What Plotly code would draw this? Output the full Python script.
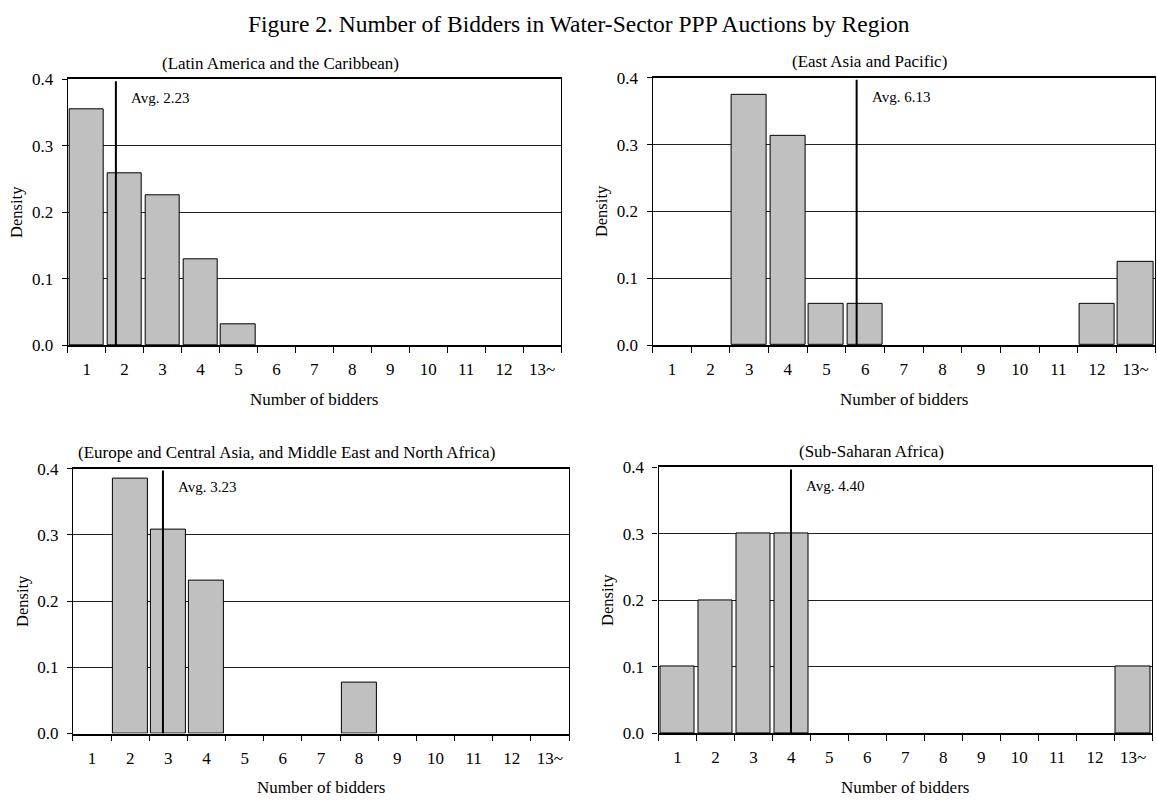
import plotly.graph_objects as go

# ---------------- data ----------------
categories = ["1", "2", "3", "4", "5", "6", "7", "8", "9", "10", "11", "12", "13~"]
bin_pos = list(range(1, 14))

density_lac = [0.355, 0.258, 0.226, 0.129, 0.032, 0, 0, 0, 0, 0, 0, 0, 0]
density_eap = [0, 0, 0.375, 0.3125, 0.0625, 0.0625, 0, 0, 0, 0, 0, 0.0625, 0.125]
density_eca_mena = [0, 0.385, 0.308, 0.231, 0, 0, 0, 0.077, 0, 0, 0, 0, 0]
density_ssa = [0.1, 0.2, 0.3, 0.3, 0, 0, 0, 0, 0, 0, 0, 0, 0.1]

panel_titles = [
    "(Latin America and the Caribbean)",
    "(East Asia and Pacific)",
    "(Europe and Central Asia, and Middle East and North Africa)",
    "(Sub-Saharan Africa)",
]
avg_labels = ["Avg. 2.23", "Avg. 6.13", "Avg. 3.23", "Avg. 4.40"]
avg_line_x = [1.77, 5.78, 2.86, 3.99]   # where the marker line is drawn in the picture

y_ticks = [0.0, 0.1, 0.2, 0.3, 0.4]
y_ticktext = ["0.0", "0.1", "0.2", "0.3", "0.4"]

main_title = "Figure 2. Number of Bidders in Water-Sector PPP Auctions by Region"
x_title = "Number of bidders"
y_title = "Density"

series = [density_lac, density_eap, density_eca_mena, density_ssa]

# ---------------- layout geometry ----------------
W, H = 1157, 807
FONT = "Liberation Serif"
# pixel boxes: (left, right, top, bottom)
boxes = [
    (67.7, 561.0, 72.0, 344.3),
    (652.6, 1155.0, 70.5, 344.3),
    (72.9, 569.0, 470.7, 742.0),
    (658.5, 1152.0, 469.5, 741.8),
]

fig = go.Figure()
layout = dict(
    width=W, height=H,
    margin=dict(l=0, r=0, t=0, b=0),
    paper_bgcolor="white", plot_bgcolor="white",
    showlegend=False,
    font=dict(family=FONT, color="black", size=16),
    bargap=0,
)
annotations = []
shapes = []

for i, (vals, box) in enumerate(zip(series, boxes)):
    n = i + 1
    xa = "x" if n == 1 else f"x{n}"
    ya = "y" if n == 1 else f"y{n}"
    l, r, t, b = box
    fig.add_trace(go.Bar(
        x=bin_pos, y=[v if v > 0 else None for v in vals], width=0.91,
        marker=dict(color="#c0c0c0", line=dict(color="black", width=1)),
        xaxis=xa, yaxis=ya, hoverinfo="skip",
    ))
    layout["xaxis" if n == 1 else f"xaxis{n}"] = dict(
        domain=[l / W, r / W], anchor=ya,
        range=[0.5, 13.5], tickmode="array", tickvals=bin_pos, ticktext=categories,
        ticks="outside", ticklen=6, tickcolor="rgba(0,0,0,0)",
        ticklabelstandoff=2,
        tickfont=dict(family=FONT, size=17, color="black"),
        showline=True, linecolor="black", linewidth=1.5, mirror=True,
        showgrid=False, zeroline=False, fixedrange=True,
        minor=dict(ticks="outside", ticklen=6, tickcolor="black", tickwidth=1,
                   tick0=0.5, dtick=1, showgrid=False),
    )
    layout["yaxis" if n == 1 else f"yaxis{n}"] = dict(
        domain=[1 - b / H, 1 - t / H], anchor=xa,
        range=[0, 0.4], tickmode="array", tickvals=y_ticks, ticktext=y_ticktext,
        ticks="outside", ticklen=5, tickcolor="black",
        ticklabelstandoff=5,
        tickfont=dict(family=FONT, size=17, color="black"),
        showline=True, linecolor="black", linewidth=1.2, mirror=True,
        showgrid=True, gridcolor="#222222", gridwidth=1, zeroline=False, fixedrange=True,
    )
    # average marker line
    shapes.append(dict(type="line", xref=xa, yref=ya,
                       x0=avg_line_x[i], x1=avg_line_x[i], y0=0.0, y1=0.397,
                       line=dict(color="black", width=2), layer="above"))
    annotations.append(dict(xref=xa, yref=ya, x=avg_line_x[i], y=0.372,
                            xanchor="left", yanchor="middle", xshift=13,
                            text=avg_labels[i], showarrow=False,
                            font=dict(family=FONT, size=15, color="black")))
    # panel subtitle
    annotations.append(dict(xref=f"{xa} domain", yref=f"{ya} domain", x=0.5, y=1,
                            xanchor="center", yanchor="middle", xshift=-34, yshift=16,
                            text=panel_titles[i], showarrow=False,
                            font=dict(family=FONT, size=17, color="black")))
    # axis titles
    annotations.append(dict(xref=f"{xa} domain", yref=f"{ya} domain", x=0.5, y=0,
                            xanchor="center", yanchor="middle", yshift=-54,
                            text=x_title, showarrow=False,
                            font=dict(family=FONT, size=17, color="black")))
    annotations.append(dict(xref=f"{xa} domain", yref=f"{ya} domain", x=0, y=0.5,
                            xanchor="center", yanchor="middle", xshift=-51,
                            textangle=-90, text=y_title, showarrow=False,
                            font=dict(family=FONT, size=16.5, color="black")))

annotations.append(dict(xref="paper", yref="paper", x=0.5, y=1 - 15 / H,
                        xanchor="center", yanchor="middle",
                        text=main_title, showarrow=False,
                        font=dict(family=FONT, size=23.5, color="black")))

layout["annotations"] = annotations
layout["shapes"] = shapes
fig.update_layout(**layout)

fig.write_html(
    "out.html",
    config={"displayModeBar": False},
    post_script="document.body.style.margin='0';document.body.style.overflow='hidden';",
)
